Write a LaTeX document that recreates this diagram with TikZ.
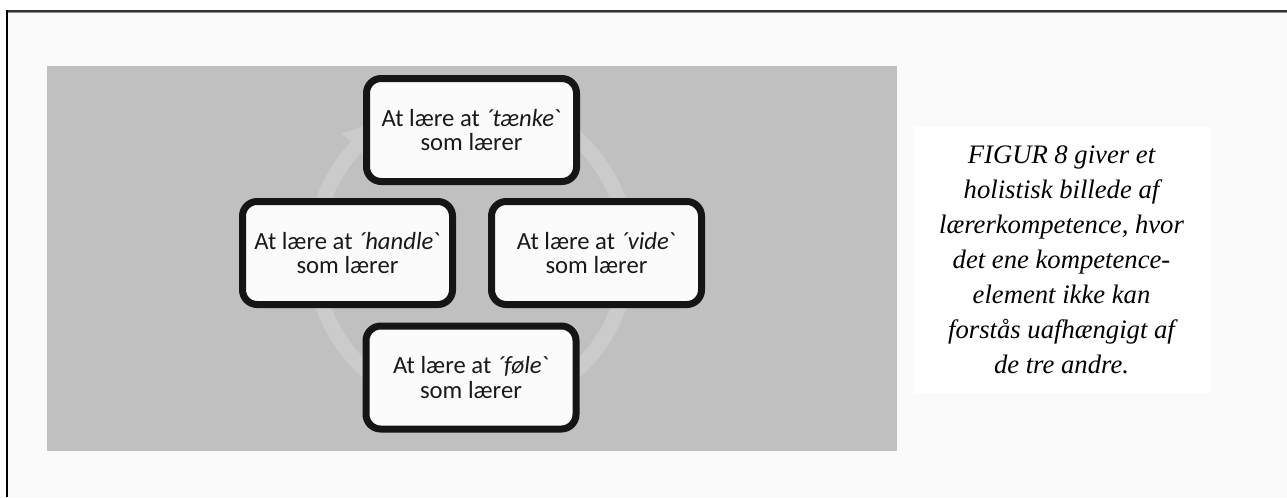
\documentclass[tikz,border=0pt]{standalone}
\usepackage{fontspec}
\newfontfamily\boxfont[Ligatures=TeXOff]{Carlito}
\newfontfamily\capfont{Liberation Serif}
\usetikzlibrary{shadows}
\definecolor{pagebg}{HTML}{FAFAFA}
\definecolor{panel}{HTML}{C0C0C0}
\definecolor{ringc}{HTML}{CBCBCB}
\definecolor{boxline}{HTML}{151515}
\definecolor{boxfill}{HTML}{FBFBFB}
\tikzset{
  cyclebox/.style={draw=boxline, fill=boxfill, line width=5.25pt,
    rounded corners=11pt, minimum width=157.5pt, minimum height=77.25pt,
    align=center, inner sep=0pt, text=black!90,
    font=\boxfont\fontsize{18.5}{18.5}\selectfont,
    drop shadow={shadow xshift=1.5pt, shadow yshift=-1.5pt, opacity=0.25, fill=black}},
  captionbox/.style={fill=white, minimum width=222pt, minimum height=199.5pt,
    align=center, inner sep=0pt,
    font=\capfont\itshape\fontsize{20}{26.25}\selectfont},
}
\begin{document}
\begin{tikzpicture}[x=0.75pt,y=-0.75pt]
\useasboundingbox (0,0) rectangle (1287,497);
\fill[white] (0,0) rectangle (1287,497);
\fill[pagebg] (6,11) rectangle (1287,497);
\draw[line width=1.5pt, color=black!80] (6,11) -- (1287,11);
\draw[line width=0.75pt, color=black!45] (6,12.8) -- (1287,12.8);
\draw[line width=1.8pt, black] (7,10) -- (7,497);
\fill[panel] (47,66) rectangle (897,451);
% circular arrow
\draw[ringc, line width=11.25pt] (471,254) ++(-60:157) arc[start angle=-60, end angle=224, radius=157];
\fill[ringc, shift={(471,254)}] (223:137) -- (223:177) -- (241:157) -- cycle;
% boxes
\node[cyclebox] (think) at (471.5,130) {At lære at {\itshape ´tænke}`\\som lærer};
\node[cyclebox] (act) at (347.5,253) {At lære at {\itshape ´handle}`\\som lærer};
\node[cyclebox] (know) at (596.5,253) {At lære at {\itshape ´vide}`\\som lærer};
\node[cyclebox] (feel) at (471,377.5) {At lære at {\itshape ´føle}`\\som lærer};
% caption
\node[captionbox] (cap) at (1061.5,260) {FIGUR 8 giver et\\holistisk billede af\\lærerkompetence, hvor\\det ene kompetence-\\element ikke kan\\forstås uafhængigt af\\de tre andre.};
\end{tikzpicture}
\end{document}
